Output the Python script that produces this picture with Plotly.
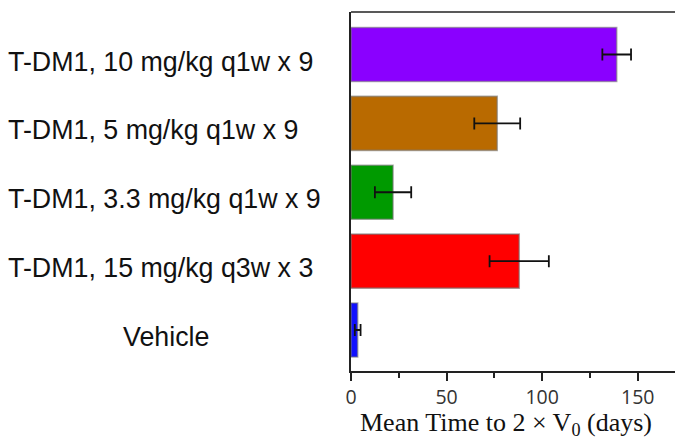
import plotly.graph_objects as go

# Treatment groups, bottom to top
groups = ["Vehicle", "T-DM1, 15 mg/kg q3w x 3", "T-DM1, 3.3 mg/kg q1w x 9",
          "T-DM1, 5 mg/kg q1w x 9", "T-DM1, 10 mg/kg q1w x 9"]
mean_days = [3.5, 88, 22, 76.5, 139]
err_days = [1.5, 15.5, 9.5, 12, 7.5]
bar_colors = ["#1010ff", "#ff0000", "#009a00", "#b96a00", "#8a00ff"]
x_ticks = [0, 50, 100, 150]

positions = list(range(len(groups)))

fig = go.Figure()
fig.add_trace(go.Bar(
    x=mean_days, y=positions, orientation="h", width=0.785,
    marker=dict(color=bar_colors, line=dict(color="rgba(120,120,120,0.6)", width=1.6)),
    error_x=dict(type="data", array=err_days, visible=True, color="#111111",
                 thickness=1.8, width=6),
    showlegend=False,
))

# Group labels at the left of the axis
label_font = dict(family="Liberation Sans, Arial", size=26.8, color="#111")
for i, g in enumerate(groups):
    if g == "Vehicle":
        fig.add_annotation(x=-0.57, xref="paper", y=i, yref="y", text=g,
                           showarrow=False, xanchor="center", yanchor="middle",
                           yshift=-7, font=label_font)
    else:
        fig.add_annotation(x=-1.066, xref="paper", y=i, yref="y", text=g,
                           showarrow=False, xanchor="left", yanchor="middle",
                           yshift=-7, font=label_font)

# Axis title
fig.add_annotation(x=0.477, xref="paper", y=-0.147, yref="paper",
                   text="Mean Time to 2 × V<sub>0</sub> (days)", showarrow=False,
                   xanchor="center", yanchor="middle",
                   font=dict(family="Liberation Serif, Times New Roman", size=26, color="#111"))

# Top frame line
fig.add_shape(type="line", xref="paper", yref="paper", x0=0, x1=1, y0=1, y1=1,
              line=dict(color="#222", width=1.5))

fig.update_layout(
    width=675, height=441,
    margin=dict(l=351, r=0, t=12, b=70),
    paper_bgcolor="white", plot_bgcolor="white",
    xaxis=dict(range=[0, 169.5], tickvals=x_ticks, ticks="outside", ticklen=8,
               tickwidth=1.5, tickcolor="#222", showline=True, linecolor="#222",
               linewidth=1.5, showgrid=False, zeroline=False,
               minor=dict(dtick=25, tick0=0, ticks="outside", ticklen=5, tickwidth=1.5,
                          tickcolor="#222", showgrid=False),
               tickfont=dict(family="Open Sans, Noto Sans", size=19.5, color="#333")),
    yaxis=dict(range=[-0.595, 4.617], showticklabels=False, ticks="",
               showline=True, linecolor="#222", linewidth=1.5,
               showgrid=False, zeroline=False),
)

fig.write_html("out.html")
